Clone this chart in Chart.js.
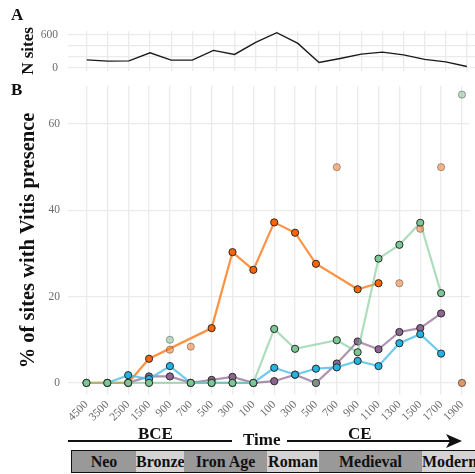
<!DOCTYPE html>
<html>
<head>
<meta charset="utf-8">
<script src="https://cdn.jsdelivr.net/npm/chart.js@4.4.1/dist/chart.umd.min.js"></script>
<style>
  body { margin: 0; width: 475px; height: 474px; overflow: hidden; background: #fff;
         font-family: "Liberation Serif", serif; position: relative; }
  .abs { position: absolute; }
  .panel { position: absolute; font-weight: bold; font-size: 17px; line-height: 17px; color: #111; }
  .era { position: absolute; font-weight: bold; font-size: 17px; line-height: 17px; color: #111; }
  .hline { position: absolute; height: 0; border-top: 2px solid #111; }
  #bar { position: absolute; left: 71px; top: 450px; width: 420px; height: 21px;
         border: 1.5px solid #111; overflow: hidden; }
  #bar div { position: absolute; top: 0; height: 21px; line-height: 21px; text-align: center;
             font-weight: bold; font-size: 16px; color: #111; white-space: nowrap; }
</style>
</head>
<body>
<div class="abs" style="left:0;top:0;width:475px;height:80px"><canvas id="chartA"></canvas></div>
<div class="abs" style="left:0;top:80px;width:475px;height:350px"><canvas id="chartB"></canvas></div>

<div class="panel" style="left:11px;top:6px">A</div>
<div class="panel" style="left:11px;top:81px">B</div>

<div class="era" style="left:138px;top:425px">BCE</div>
<div class="era" style="left:243px;top:431px">Time</div>
<div class="era" style="left:348px;top:425px">CE</div>
<div class="hline" style="left:68px;top:440px;width:164px"></div>
<div class="hline" style="left:287px;top:440px;width:166px"></div>
<svg class="abs" style="left:446px;top:433px" width="18" height="16">
  <polygon points="0,1 16,8 0,15 4,8" fill="#111"/>
</svg>

<div id="bar">
  <div style="left:0;width:64px;background:#999">Neo</div>
  <div style="left:64px;width:48px;background:#d3d3d3">Bronze</div>
  <div style="left:112px;width:83px;background:#999">Iron Age</div>
  <div style="left:195px;width:52px;background:#d3d3d3">Roman</div>
  <div style="left:247px;width:103px;background:#999">Medieval</div>
  <div style="left:350px;width:70px;background:#d3d3d3;text-align:left">Modern</div>
</div>

<script>
// periodos (etiquetas del eje x), BCE luego CE
const categories = ["4500", "3500", "2500", "1500", "900", "700", "500", "300", "100",
                    "100", "300", "500", "700", "900", "1100", "1300", "1500", "1700", "1900"];

// panel A: numero de sitios
const nSites = [141, 117, 123, 271, 136, 136, 316, 242, 464, 643, 446, 93, 167, 247, 284, 234, 149, 104, 19];

// panel B: % de sitios con Vitis (null = sin punto en la linea)
const orangeLine = [0, 0, 0, 5.6, null, null, 12.7, 30.3, 26.2, 37.2, 34.8, 27.6, null, 21.7, 23.1, null, null, null, null];
const greenLine  = [0, 0, 0, 0, null, 0, 0, 0, 0, 12.5, 7.9, null, 9.9, 7.1, 28.8, 32.0, 37.1, 20.8, null];
const blueLine   = [null, 0, 1.8, 0.9, 3.9, 0, 0, 0, 0, 3.5, 1.9, 3.3, 3.6, 5.1, 3.9, 9.2, 11.3, 6.8, null];
const purpleLine = [null, null, 0, 1.5, 1.5, 0, 0.7, 1.4, 0, 0.4, 1.9, 0, 4.5, 9.6, 7.8, 11.8, 12.7, 16.1, null];

// puntos sueltos (pocos sitios), dibujados transparentes
const orangeFaded = [null, null, null, null, 7.7, 8.4, null, null, null, null, null, null, 50, null, null, 23.1, 35.7, 50, 0];
const greenFaded  = [null, null, null, null, 10, null, null, null, null, null, null, 0, null, null, null, null, null, null, 66.8];
const purpleFaded = [null, null, null, null, null, null, null, null, null, null, null, null, null, null, null, null, null, null, 0];

const yTicksA = [0, 200, 400, 600];
const yLabelsA = [0, 600];
const yTicksB = [0, 20, 40, 60];

const X_MIN = -0.885;
const X_MAX = 18.385;
const GRID = "#ebebeb";
const TICK_COLOR = "#6b6b6b";

Chart.defaults.font.family = "'Liberation Serif', serif";
Chart.defaults.animation = false;

function toPoints(arr) {
  return arr.map((v, i) => ({ x: i, y: v })).filter((p) => p.y !== null);
}

function lineSet(label, arr, lineColor, pointColor, order) {
  return {
    label: label,
    data: toPoints(arr),
    borderColor: lineColor,
    borderWidth: 2.2,
    pointBackgroundColor: pointColor,
    pointBorderColor: "#2a2a2a",
    pointBorderWidth: 1,
    pointRadius: 3.6,
    tension: 0,
    order: order,
  };
}

function fadedSet(label, arr, color) {
  return {
    label: label,
    data: toPoints(arr),
    showLine: false,
    pointBackgroundColor: color,
    pointBorderColor: "rgba(40,40,40,0.4)",
    pointBorderWidth: 1,
    pointRadius: 3.6,
    order: 0,
  };
}

const xTicks = (scale) => {
  scale.ticks = categories.map((c, i) => ({ value: i }));
};

// fija el tamaño del eje y quita el relleno que Chart.js añade por las etiquetas
const fitTo = (prop, size) => (s) => {
  s[prop] = size;
  s.paddingTop = 0;
  s.paddingBottom = 0;
  s.paddingLeft = 0;
  s.paddingRight = 0;
};

// ---------- panel A ----------
new Chart(document.getElementById("chartA"), {
  type: "line",
  data: {
    datasets: [{
      label: "N sites",
      data: toPoints(nSites),
      borderColor: "#1a1a1a",
      borderWidth: 1.4,
      pointRadius: 0,
      tension: 0,
    }],
  },
  options: {
    responsive: true,
    maintainAspectRatio: false,
    layout: { padding: { top: 31, right: 0, left: 0, bottom: 0 } },
    plugins: { legend: { display: false }, tooltip: { enabled: false } },
    scales: {
      x: {
        type: "linear", min: X_MIN, max: X_MAX,
        afterBuildTicks: xTicks,
        afterFit: fitTo("height", 9),
        ticks: { display: false },
        grid: { color: GRID, lineWidth: 1.3, drawTicks: false },
        border: { display: false },
      },
      y: {
        min: -65, max: 675,
        afterBuildTicks: (s) => { s.ticks = yTicksA.map((v) => ({ value: v })); },
        afterFit: fitTo("width", 68),
        ticks: {
          color: TICK_COLOR, font: { size: 11.5 }, padding: 10, autoSkip: false,
          callback: (v) => (yLabelsA.includes(v) ? String(v) : ""),
        },
        grid: { color: GRID, lineWidth: 1.3, drawTicks: false },
        border: { display: false },
        title: {
          display: true, text: "N sites", color: "#111",
          font: { size: 17, weight: "bold" }, padding: { top: 18, bottom: 0 },
        },
      },
    },
  },
});

// ---------- panel B ----------
new Chart(document.getElementById("chartB"), {
  type: "line",
  data: {
    datasets: [
      fadedSet("orange (few sites)", orangeFaded, "rgba(240,120,40,0.55)"),
      fadedSet("green (few sites)", greenFaded, "rgba(120,185,140,0.5)"),
      fadedSet("purple (few sites)", purpleFaded, "rgba(120,80,90,0.35)"),
      lineSet("green", greenLine, "rgba(125,200,150,0.62)", "#7cc895", 1),
      lineSet("blue", blueLine, "rgba(70,190,232,0.78)", "#22b5e3", 2),
      lineSet("purple", purpleLine, "rgba(135,95,140,0.68)", "#8c6590", 3),
      lineSet("orange", orangeLine, "rgba(255,130,40,0.88)", "#ff6400", 4),
    ],
  },
  options: {
    responsive: true,
    maintainAspectRatio: false,
    clip: false,
    layout: { padding: { top: 6, right: 0, left: 0, bottom: 0 } },
    plugins: { legend: { display: false }, tooltip: { enabled: false } },
    scales: {
      x: {
        type: "linear", min: X_MIN, max: X_MAX,
        afterBuildTicks: xTicks,
        afterFit: fitTo("height", 35),
        ticks: {
          color: TICK_COLOR, font: { size: 11.5 }, padding: 3,
          minRotation: 45, maxRotation: 45, autoSkip: false,
          callback: (v) => categories[v],
        },
        grid: { color: GRID, lineWidth: 1.3, drawTicks: false },
        border: { display: false },
      },
      y: {
        min: -2.8, max: 68.8,
        afterBuildTicks: (s) => { s.ticks = yTicksB.map((v) => ({ value: v })); },
        afterFit: fitTo("width", 68),
        ticks: { color: TICK_COLOR, font: { size: 11.5 }, padding: 8 },
        grid: { color: GRID, lineWidth: 1.3, drawTicks: false },
        border: { display: false },
        title: {
          display: true, text: "% of sites with Vitis presence", color: "#111",
          font: { size: 20.5, weight: "bold" }, padding: { top: 16, bottom: 0 },
        },
      },
    },
  },
});
</script>
</body>
</html>
